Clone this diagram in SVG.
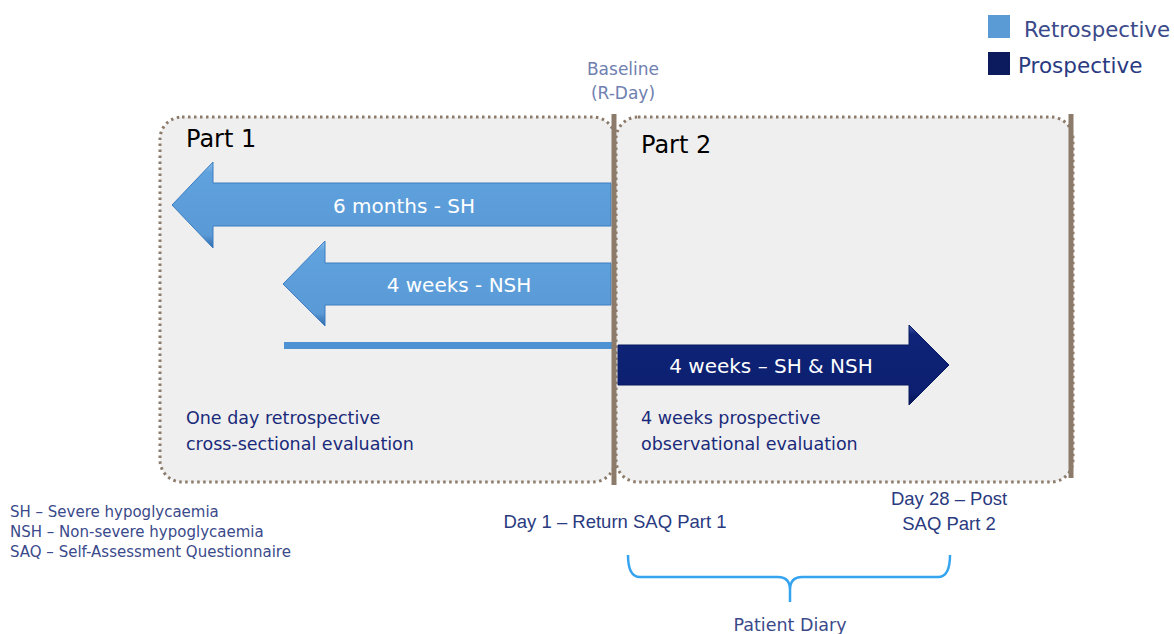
<svg xmlns="http://www.w3.org/2000/svg" width="1174" height="634" viewBox="0 0 1174 634">
<style>
.box{fill:#efefef;stroke:#8c7b6b;stroke-width:3;stroke-dasharray:2.5 3.5}
.bar{stroke:#8c7b6b;stroke-width:5}
.t{font-family:"DejaVu Sans",Verdana,sans-serif}
.part{font-size:24px;fill:#000}
.awt{font-size:20px;fill:#fff;text-anchor:middle}
.desc{font-size:17.5px;fill:#1a2a7a}
.leg{font-size:15px;fill:#3a4a8a}
.cal{font-family:"Liberation Sans",Arial,sans-serif;fill:#2a3a80;font-size:18.5px}
</style>
<defs>
<linearGradient id="lb" x1="0" y1="0" x2="0" y2="1">
<stop offset="0" stop-color="#8ec0ec"/>
<stop offset="0.12" stop-color="#5fa2de"/>
<stop offset="0.85" stop-color="#5a9ad6"/>
<stop offset="1" stop-color="#2f6aa8"/>
</linearGradient>
<linearGradient id="db" x1="0" y1="0" x2="0" y2="1">
<stop offset="0" stop-color="#3a55a8"/>
<stop offset="0.12" stop-color="#0f2478"/>
<stop offset="0.85" stop-color="#0c1f70"/>
<stop offset="1" stop-color="#061250"/>
</linearGradient>
</defs>

<g id="legend">
<rect x="988" y="15" width="22" height="23" fill="#5b9bd5"/>
<text class="t" x="1024" y="37" font-size="21.3" fill="#3a4a8a">Retrospective</text>
<rect x="988" y="52" width="22" height="23" fill="#0c1a5e"/>
<text class="t" x="1018" y="73" font-size="21.5" fill="#2a3a80">Prospective</text>
</g>

<g id="baseline">
<text class="t" x="623" y="75" font-size="17" fill="#7080b0" text-anchor="middle">Baseline</text>
<text class="t" x="623" y="99" font-size="17" fill="#7080b0" text-anchor="middle">(R-Day)</text>
</g>

<g id="part1">
<rect class="box" x="160" y="117" width="455" height="365" rx="22"/>
<text class="t part" x="186" y="147">Part  1</text>
<text class="t desc" x="186" y="424">One day retrospective</text>
<text class="t desc" x="186" y="450">cross-sectional evaluation</text>
</g>

<g id="part2">
<rect class="box" x="616" y="117" width="457" height="365" rx="22"/>
<text class="t part" x="641" y="153">Part  2</text>
<text class="t desc" x="641" y="424">4 weeks prospective</text>
<text class="t desc" x="641" y="450">observational evaluation</text>
</g>

<g id="arrow-6m">
<path d="M611,183 L213,183 L213,162 L172,205 L213,248 L213,226 L611,226 Z" fill="url(#lb)" stroke="#3d7cc0" stroke-width="1"/>
<text class="t awt" x="404" y="213">6 months - SH</text>
</g>

<g id="arrow-4w">
<path d="M611,263 L325,263 L325,241 L283,284 L325,326 L325,305 L611,305 Z" fill="url(#lb)" stroke="#3d7cc0" stroke-width="1"/>
<text class="t awt" x="459" y="292">4 weeks - NSH</text>
</g>

<g id="one-day-line">
<rect x="284" y="342" width="329" height="7" fill="#4f92d4"/>
</g>

<g id="arrow-pro">
<path d="M618,345 L909,345 L909,325 L949,365 L909,405 L909,385 L618,385 Z" fill="url(#db)" stroke="#081a60" stroke-width="1"/>
<text class="t awt" x="771" y="373">4 weeks – SH &amp; NSH</text>
</g>

<g id="connectors">
<line class="bar" x1="614" y1="114" x2="614" y2="485"/>
<line class="bar" x1="1071" y1="114" x2="1071" y2="478"/>
<path d="M628,555 Q628,577 640,577 L778,577 Q790,577 790,590 L790,602 M790,590 Q790,577 802,577 L938,577 Q950,577 950,555" fill="none" stroke="#35a4f0" stroke-width="2.5"/>
</g>

<g id="abbrev">
<text class="t leg" x="10" y="517">SH – Severe hypoglycaemia</text>
<text class="t leg" x="10" y="537">NSH – Non-severe hypoglycaemia</text>
<text class="t leg" x="10" y="557">SAQ – Self-Assessment Questionnaire</text>
</g>

<g id="day1">
<text class="cal" x="615" y="528" text-anchor="middle">Day 1 – Return SAQ Part 1</text>
</g>
<g id="day28">
<text class="cal" x="949" y="505" text-anchor="middle">Day 28 – Post</text>
<text class="cal" x="949" y="530" text-anchor="middle">SAQ Part 2</text>
</g>
<g id="diary">
<text class="t" x="790" y="631" font-size="17.5" fill="#3a4a8a" text-anchor="middle">Patient Diary</text>
</g>
</svg>
